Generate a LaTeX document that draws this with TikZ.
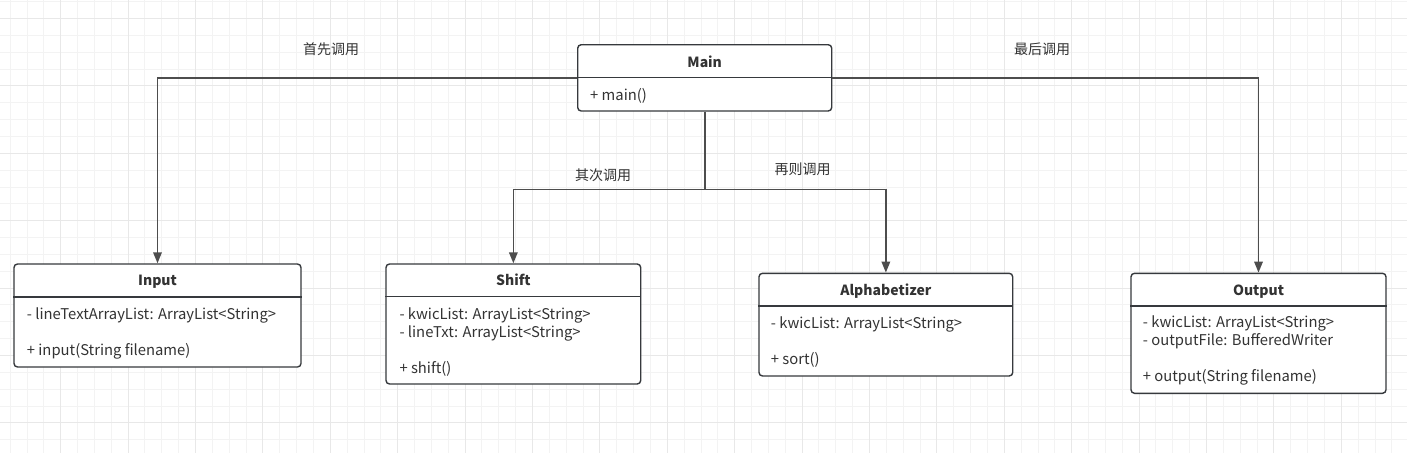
\documentclass[tikz,border=0pt]{standalone}
\usepackage{fontspec}
\setmainfont{Noto Sans CJK SC}
\usetikzlibrary{arrows.meta}
\definecolor{gthin}{HTML}{F3F3F3}
\definecolor{gthick}{HTML}{E8E8E8}
\definecolor{boxc}{HTML}{36393D}
\definecolor{linec}{HTML}{4D4D4D}
\definecolor{txtc}{HTML}{333333}
\tikzset{
  gridthin/.style={draw=gthin, line width=1pt},
  gridthick/.style={draw=gthick, line width=1pt},
  umlbox/.style={draw=boxc, line width=1.4pt, rounded corners=3.5pt, fill=white, inner sep=0pt},
  divider/.style={draw=boxc, line width=1.4pt},
  conn/.style={draw=linec, line width=1.7pt},
  arrowconn/.style={conn, -{Triangle[length=11pt,width=8.5pt]}},
  title/.style={font=\fontsize{14}{16}\selectfont\bfseries, text=txtc, inner sep=0pt, text height=1.1em, text depth=0.12em},
  member/.style={font=\fontsize{14.8}{16}\selectfont, text=txtc, inner sep=0pt, anchor=west, text height=1.1em, text depth=0.12em},
  lbl/.style={font=\fontsize{14}{16}\selectfont, text=txtc, inner sep=0pt, text height=1.0em, text depth=0.16em}
}
\begin{document}
\begin{tikzpicture}[x=1pt,y=-1pt]
\useasboundingbox (0,0) rectangle (1407,453);
\fill[white] (0,0) rectangle (1407,453);
% grid
\foreach \i in {0,...,83} { \draw[gridthin] ({10.15+16.85*\i},0) -- ++(0,453); }
\foreach \i in {0,...,26} { \draw[gridthin] (0,{1.65+16.85*\i}) -- ++(1407,0); }
\foreach \i in {0,...,20} { \draw[gridthick] ({60.7+67.4*\i},0) -- ++(0,453); }
\foreach \i in {0,...,6} { \draw[gridthick] (0,{18.5+67.4*\i}) -- ++(1407,0); }

% Main
\node[umlbox, minimum width=254pt, minimum height=66.3pt] (main) at (704.7,77.85) {};
\draw[divider] (main.west |- 0,77.7) -- (main.east |- 0,77.7);
\node[title] (maint) at (704.7,62.7) {Main};
\node[member] (mainm) at (590,96) {+ main()};

% Input
\node[umlbox, minimum width=287pt, minimum height=103pt] (input) at (157.5,315.5) {};
\draw[divider] (input.west |- 0,297) -- (input.east |- 0,297);
\node[title] (inputt) at (157.5,281) {Input};
\node[member] (inputa) at (26.7,315) {- lineTextArrayList: ArrayList<String>};
\node[member] (inputm) at (26.7,351) {+ input(String filename)};

% Shift
\node[umlbox, minimum width=254.7pt, minimum height=120pt] (shift) at (513.35,324) {};
\draw[divider] (shift.west |- 0,296.7) -- (shift.east |- 0,296.7);
\node[title] (shiftt) at (513.35,280.7) {Shift};
\node[member] (shifta) at (399.3,315) {- kwicList: ArrayList<String>};
\node[member] (shiftb) at (399.3,333) {- lineTxt: ArrayList<String>};
\node[member] (shiftm) at (399.3,369) {+ shift()};

% Alphabetizer
\node[umlbox, minimum width=253.7pt, minimum height=102.7pt] (alpha) at (885.85,324.65) {};
\draw[divider] (alpha.west |- 0,306) -- (alpha.east |- 0,306);
\node[title] (alphat) at (885.85,290.7) {Alphabetizer};
\node[member] (alphaa) at (770.7,323.3) {- kwicList: ArrayList<String>};
\node[member] (alpham) at (770.7,359.3) {+ sort()};

% Output
\node[umlbox, minimum width=255pt, minimum height=120pt] (output) at (1258.5,333.3) {};
\draw[divider] (output.west |- 0,306) -- (output.east |- 0,306);
\node[title] (outputt) at (1258.5,290.7) {Output};
\node[member] (outputa) at (1142.7,322.7) {- kwicList: ArrayList<String>};
\node[member] (outputb) at (1142.7,340.7) {- outputFile: BufferedWriter};
\node[member] (outputm) at (1142.7,376.7) {+ output(String filename)};

% connectors
\coordinate (split) at (704.7,189.5);
\draw[arrowconn] (main.west) -| (input.north);
\draw[arrowconn] (main.east) -| (output.north);
\draw[conn] (main.south) -- (split);
\draw[arrowconn] (split) -| (shift.north);
\draw[arrowconn] (split) -| (alpha.north);

% labels
\node[lbl] (l1) at (331.2,50) {首先调用};
\node[lbl] (l2) at (603,176) {其次调用};
\node[lbl] (l3) at (802.5,170.7) {再则调用};
\node[lbl] (l4) at (1042,50) {最后调用};
\end{tikzpicture}
\end{document}
